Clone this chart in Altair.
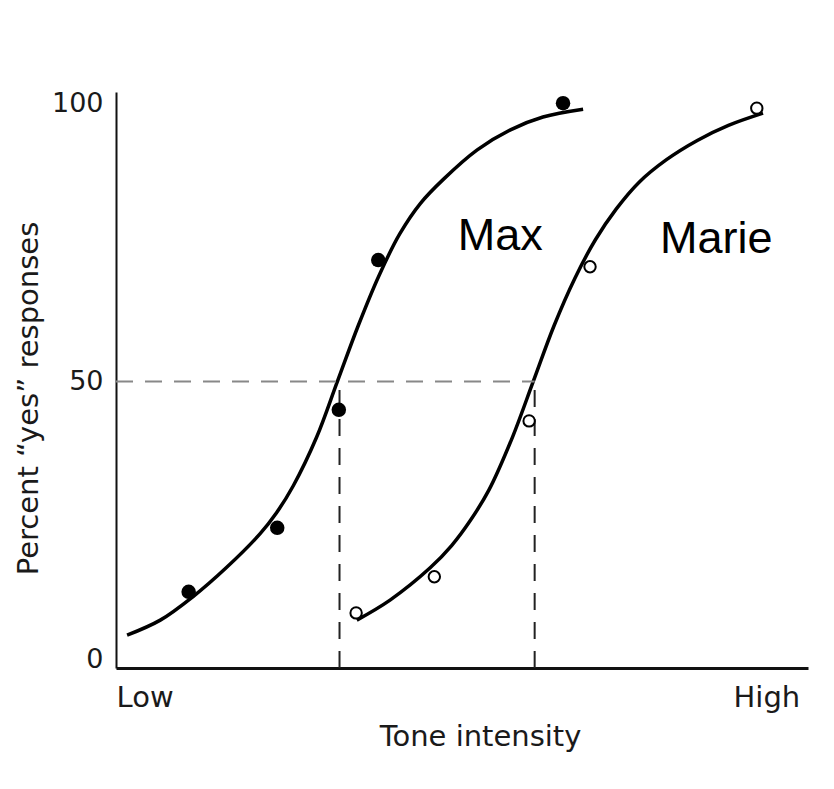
import altair as alt
import pandas as pd

# Tone intensity runs 0 (Low) .. 100 (High)
max_curve_x = [1.6, 6.4, 11.1, 16.0, 20.8, 23.2, 25.6, 29.0, 32.0, 35.0, 38.0, 41.0, 44.0, 47.3, 52.2, 57.0, 61.7, 67.5]
max_curve_y = [4.4, 7.1, 11.3, 16.6, 22.6, 26.4, 31.2, 40.0, 50.0, 60.0, 69.0, 76.5, 82.0, 86.3, 91.6, 95.2, 97.5, 98.9]

marie_curve_x = [34.8, 39.6, 45.4, 48.5, 51.2, 53.9, 57.3, 60.3, 63.3, 66.3, 69.3, 72.3, 75.6, 79.5, 84.0, 88.5, 93.5]
marie_curve_y = [7.1, 10.7, 16.5, 20.5, 25.0, 30.5, 40.0, 50.0, 60.0, 68.5, 75.5, 81.0, 85.8, 89.8, 93.3, 96.0, 98.2]

max_pts_x = [10.5, 23.3, 32.2, 37.9, 64.6]
max_pts_y = [12.2, 23.7, 44.9, 71.8, 100.0]

marie_pts_x = [34.7, 46.0, 59.7, 68.5, 92.6]
marie_pts_y = [8.4, 14.9, 42.9, 70.6, 99.1]

thresholds = [32.3, 60.5]   # 50% points for Max and Marie
criterion = 50
y_floor = -1.5

names = ["Max", "Marie"]
name_x = [49.4, 78.6]
name_y = [73.6, 73.1]

FONT = "DejaVu Sans"
INK = "#1a1a1a"

curves = pd.concat([
    pd.DataFrame({"subject": "Max", "intensity": max_curve_x, "pct": max_curve_y}),
    pd.DataFrame({"subject": "Marie", "intensity": marie_curve_x, "pct": marie_curve_y}),
])
max_pts = pd.DataFrame({"intensity": max_pts_x, "pct": max_pts_y})
marie_pts = pd.DataFrame({"intensity": marie_pts_x, "pct": marie_pts_y})
horiz = pd.DataFrame({"x0": [0], "x1": [thresholds[1]], "y": [criterion]})
verts = pd.DataFrame({"x": thresholds, "y0": [y_floor] * 2, "y1": [criterion] * 2})
labels = pd.DataFrame({"name": names, "intensity": name_x, "pct": name_y})

x_scale = alt.Scale(domain=[0, 100], nice=False, zero=False)
y_scale = alt.Scale(domain=[y_floor, 102], nice=False, zero=False)

x_enc = alt.X(
    "intensity:Q", scale=x_scale, title="Tone intensity",
    axis=alt.Axis(
        values=[0, 98.8], labelExpr="datum.value == 0 ? 'Low' : 'High'",
        labelFlush=12, ticks=False, tickSize=0, grid=False,
        labelPadding=38, labelBaseline="alphabetic",
        labelFont=FONT, labelFontSize=29, labelColor=INK,
        domainColor="#111111", domainWidth=3,
        titleFont=FONT, titleFontSize=29, titleFontWeight="normal", titleColor=INK,
        titleX=364, titleY=77, titleBaseline="alphabetic", titleAlign="center",
    ),
)
y_enc = alt.Y(
    "pct:Q", scale=y_scale, title="Percent \u201cyes\u201d responses",
    axis=alt.Axis(
        values=[0, 50, 100], ticks=False, tickSize=0, grid=False,
        labelPadding=13, labelFont=FONT, labelFontSize=27, labelColor=INK,
        domainColor="#111111", domainWidth=2,
        titleFont=FONT, titleFontSize=29, titleFontWeight="normal", titleColor=INK,
        titleX=-79, titleY=306, titleBaseline="alphabetic", titleAlign="center",
        titleAngle=270,
    ),
)

lines = alt.Chart(curves).mark_line(
    color="black", strokeWidth=3.5, interpolate="catmull-rom"
).encode(x=x_enc, y=y_enc, detail="subject:N")

h_rule = alt.Chart(horiz).mark_rule(
    color="#888888", strokeWidth=2, strokeDash=[17, 12]
).encode(x="x0:Q", x2="x1:Q", y="y:Q")

v_rule = alt.Chart(verts).mark_rule(
    color="#222222", strokeWidth=2, strokeDash=[17, 12]
).encode(x="x:Q", y="y0:Q", y2="y1:Q")

filled = alt.Chart(max_pts).mark_point(
    shape="circle", filled=True, color="black", size=210, opacity=1
).encode(x="intensity:Q", y="pct:Q")

hollow = alt.Chart(marie_pts).mark_point(
    shape="circle", filled=False, color="black", fill="white", fillOpacity=1,
    strokeWidth=2, size=130, opacity=1
).encode(x="intensity:Q", y="pct:Q")

names_text = alt.Chart(labels).mark_text(
    align="left", baseline="alphabetic", font="Liberation Sans",
    fontSize=45, color="black"
).encode(x="intensity:Q", y="pct:Q", text="name:N")

chart = alt.layer(lines, h_rule, v_rule, filled, hollow, names_text).properties(
    width=692, height=576,
    padding={"left": 108, "top": 84, "right": 18, "bottom": 100},
    autosize="none", background="white",
).configure_view(stroke=None)

chart.save("out.html", embed_options={"renderer": "svg", "actions": False})
